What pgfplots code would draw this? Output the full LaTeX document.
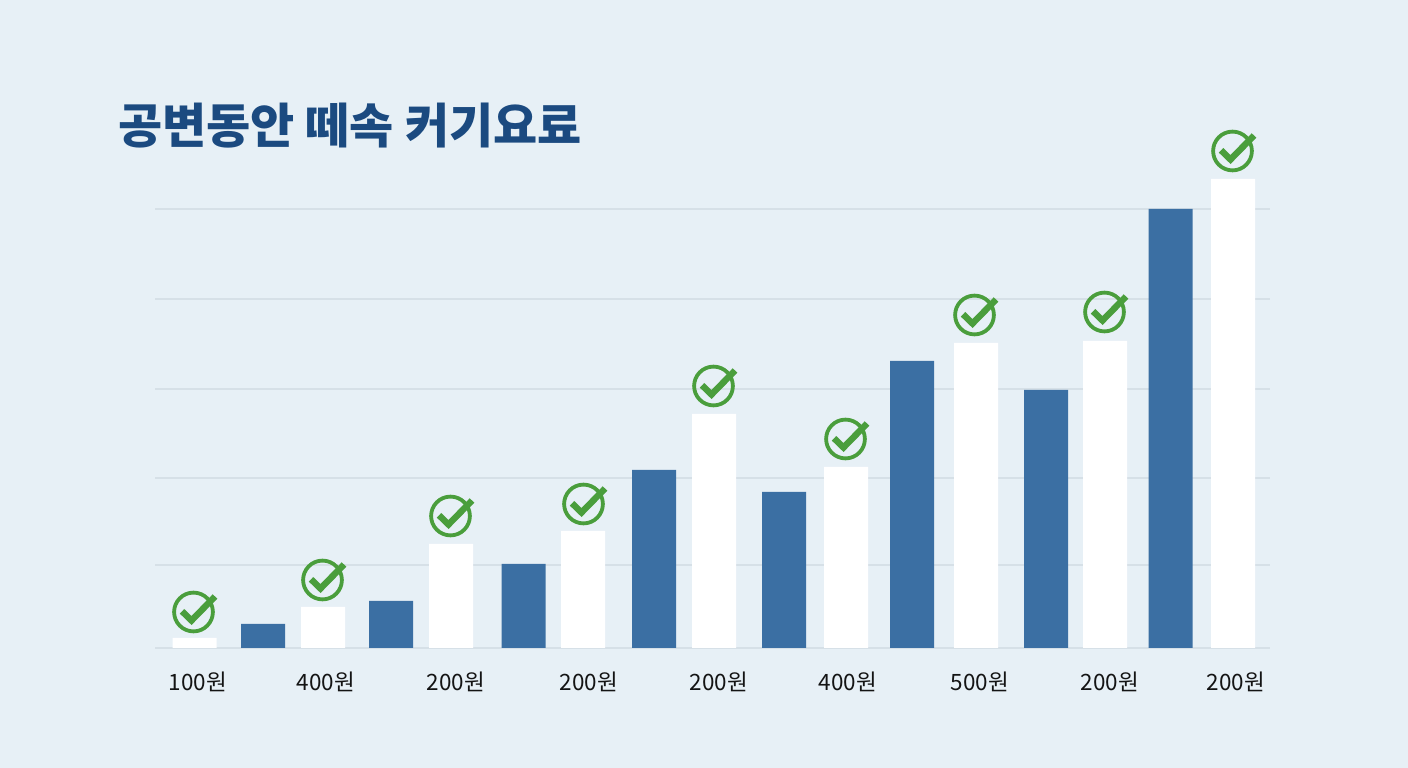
\documentclass[border=0pt]{standalone}
\usepackage{fontspec}
\setmainfont{Noto Sans CJK KR}
\usepackage{pgfplots}
\pgfplotsset{compat=1.18}
\definecolor{bgc}{HTML}{E7F0F6}
\definecolor{gridc}{HTML}{D6E0E7}
\definecolor{barblue}{HTML}{3B6FA3}
\definecolor{titlec}{HTML}{1B4A80}
\definecolor{okgreen}{HTML}{4A9E3C}
\pgfdeclareplotmark{okcheck}{%
  \pgfsetlinewidth{3.8pt}%
  \pgfpathcircle{\pgfpointorigin}{19.4pt}%
  \pgfusepathqstroke
  \pgfsetlinewidth{6.4pt}%
  \pgfpathmoveto{\pgfpoint{-11.5pt}{0.7pt}}%
  \pgfpathlineto{\pgfpoint{-2pt}{-8.5pt}}%
  \pgfpathlineto{\pgfpoint{21.5pt}{15.5pt}}%
  \pgfusepathqstroke
}
\begin{document}
\begin{tikzpicture}[x=1pt,y=1pt]
\fill[bgc] (0,0) rectangle (1408,768);
\begin{axis}[
  at={(155pt,120pt)}, anchor=origin,
  scale only axis, width=1115pt, height=548pt,
  xmin=155, xmax=1270, ymin=0, ymax=548,
  axis line style={draw=none},
  major tick length=0pt,
  ytick={0,83,170,259,349,439}, yticklabels={},
  ymajorgrids, xmajorgrids=false,
  grid style={draw=gridc, line width=1.2pt},
  xtick={198,326,456,589,719,848,980,1110,1236},
  xticklabels={100원,400원,200원,200원,200원,400원,500원,200원,200원},
  xticklabel style={anchor=center, yshift=-34pt, font=\fontsize{22.5pt}{24pt}\selectfont, text=black!92},
  title={공변동안 떼속 커기요료},
  title style={at={(axis description cs:-0.0332,0.9416)}, anchor=west, inner sep=0pt,
    font=\fontsize{48pt}{50pt}\selectfont\bfseries, text=titlec},
  ybar, bar shift=0pt, bar width=44pt,
]
\addplot[fill=barblue, draw=none] coordinates {
 (263,24) (391,47) (523.5,84) (654,178) (784,156) (912,287) (1046,258) (1170.5,439)};
\addplot[fill=white, draw=none] coordinates {
 (194.5,10) (323,41) (451,104) (583,117) (714,234) (846,181) (976,305) (1105,307) (1233,469)};
\addplot[only marks, mark=okcheck, draw=okgreen, mark options={draw=okgreen}, forget plot] coordinates {
 (193.5,36) (322.5,68) (450.5,132) (583.5,144) (713.5,262) (845.5,209) (974.5,333) (1104.5,336) (1232.5,497)};
\end{axis}
\end{tikzpicture}
\end{document}
